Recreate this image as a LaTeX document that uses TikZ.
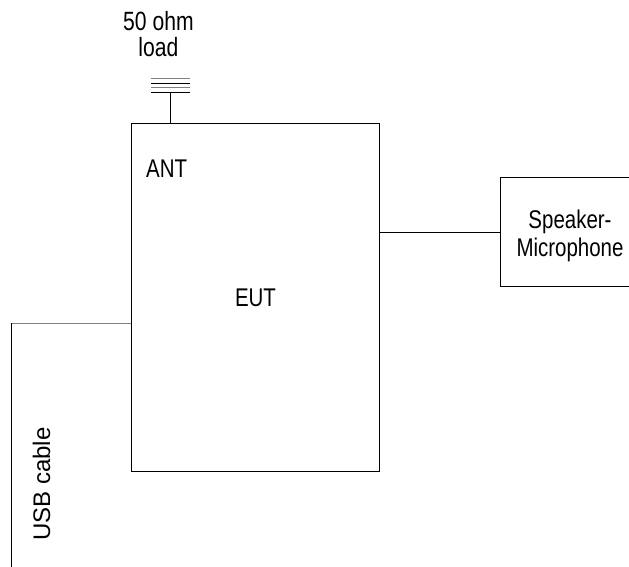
\documentclass[tikz,border=0pt]{standalone}
\usepackage{fontspec}
\setmainfont{Liberation Sans}
\newfontfamily\narrowfont[FakeStretch=0.8]{Liberation Sans}
\usetikzlibrary{positioning}
\tikzset{%
  unit/.style={draw, line width=0.9pt, inner sep=0pt},
  label text/.style={font=\narrowfont\fontsize{25.6}{27.5}\selectfont, align=center, inner sep=0pt},
  wire/.style={line width=0.9pt}
}

\begin{document}
\begin{tikzpicture}[x=1pt, y=-1pt]
          \useasboundingbox (0, 0) rectangle (629, 567);

          \node[unit, minimum width=248pt, minimum height=348pt] (eut) at (255, 297) {};
          \node[label text, anchor=base] (eutlabel) at (255.5, 306.7) {EUT};
          \node[label text, anchor=base] (ant) at (166.7, 177) {ANT};

          \node[unit, minimum width=160pt, minimum height=109pt, anchor=west] (spk) at (500, 232) {};
          \node[label text, font=\narrowfont\fontsize{25.6}{28.4}\selectfont] (spklabel) at (570, 236) {Speaker-\\Microphone};

          % 50 ohm load on the antenna port
          \coordinate (ldtop) at (170.5, 92);
          \coordinate (antport) at (eut.north -| ldtop);
          \draw[wire] (antport) -- (ldtop);
          \foreach \y/\c in {78.5/gray, 83/black, 87.5/gray, 92/black}
            \draw[wire, \c] (151, \y) -- (190, \y);
          \node[label text, font=\narrowfont\fontsize{26.4}{26.7}\selectfont] (load) at (158.4, 34) {50 ohm\\load};

          % speaker-microphone link
          \draw[wire] (eut.east |- spk.west) -- (spk.west);

          % usb cable
          \coordinate (usbin) at (eut.west |- 0, 323);
          \coordinate (usbcorner) at (11, 323);
          \coordinate (usbend) at (11, 567);
          \draw[wire, gray] (usbin) -- (usbcorner);
          \draw[wire] (usbcorner) -- (usbend);
          \node[font=\fontsize{24}{28}\selectfont, inner sep=0pt, rotate=90, anchor=base] (usb) at (50, 484) {USB cable};
        \end{tikzpicture}
\end{document}
